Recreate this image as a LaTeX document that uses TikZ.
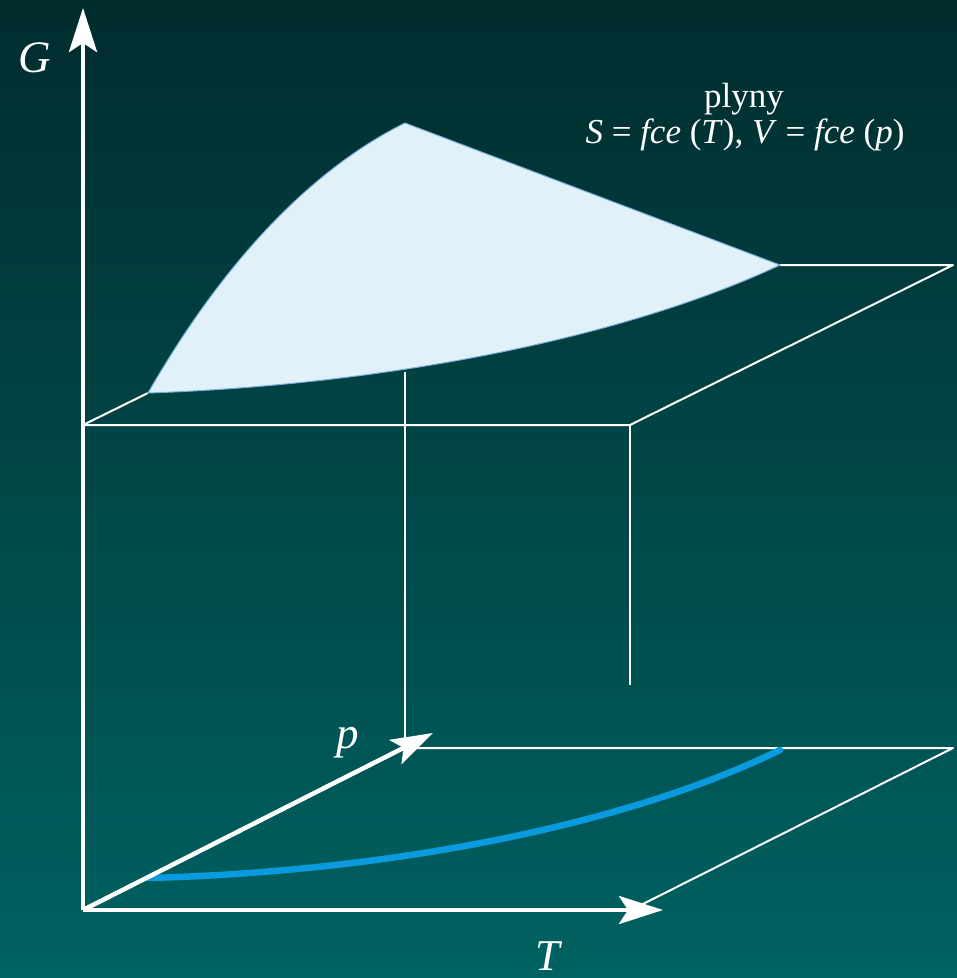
\documentclass[tikz,border=0pt]{standalone}
\usepackage{fontspec}
\setmainfont{Liberation Serif}
\usetikzlibrary{arrows.meta}
\definecolor{bgtop}{RGB}{1,44,46}
\definecolor{bgbot}{RGB}{0,98,98}
\definecolor{surf}{RGB}{225,241,249}
\definecolor{surfedge}{RGB}{122,174,216}
\definecolor{curveblue}{RGB}{10,154,222}
\begin{document}
\begin{tikzpicture}[x=1pt,y=-1pt,
  axis/.style={white, line width=4.5pt, -{Stealth[length=44pt,width=28pt,inset=9pt]}},
  paxis/.style={white, line width=4.5pt, -{Stealth[length=42pt,width=27pt,inset=9pt]}},
  frame/.style={white, line width=2pt, line join=round},
  lbl/.style={text=white, inner sep=0pt, anchor=base}]
\useasboundingbox (0,0) rectangle (957,978);
\shade[top color=bgtop, bottom color=bgbot] (0,0) rectangle (957,978);

% coordinates
\coordinate (O) at (83,910);
\coordinate (Gtip) at (83,8);
\coordinate (Ttip) at (663,910);
\coordinate (ptip) at (433,733);
\coordinate (P1) at (405,748);
\coordinate (P2) at (953,748);
\coordinate (P3) at (631,910);
\coordinate (U0) at (83,425);
\coordinate (U1) at (630,425);
\coordinate (U2) at (953,265);
\coordinate (U3) at (780,265);
\coordinate (U1b) at (630,685);
\coordinate (A) at (148,393);
\coordinate (B) at (405,123);
\coordinate (C) at (780,265);
\coordinate (D) at (405,372);
\coordinate (A2) at (148,878);
\coordinate (C2) at (780,750);

% upper frame
\draw[frame] (A) -- (U0) -- (U1) -- (U2) -- (U3);
\draw[frame] (U1) -- (U1b);
% bottom frame
\draw[frame] (P1) -- (P2) -- (P3);

% surface
\filldraw[fill=surf, draw=surfedge, line width=1pt]
  (A) .. controls (230,250) and (320,165) .. (B) -- (C)
  .. controls (620,340) and (380,385) .. (A) -- cycle;

% vertical drop
\draw[frame] (D) -- (P1);

% blue curve
\draw[curveblue, line width=6.5pt, line cap=round]
  (A2) .. controls (380,872) and (620,828) .. (C2);

% axes
\draw[axis] (O) -- (Gtip);
\draw[axis] (O) -- (Ttip);
\draw[paxis] (O) -- (ptip);

% labels
\node[lbl, font=\fontsize{45}{54}\selectfont\itshape] (Glab) at (35,72) {G};
\node[lbl, font=\fontsize{45}{54}\selectfont\itshape] (plab) at (348,748) {p};
\node[lbl, font=\fontsize{44}{52}\selectfont\itshape] (Tlab) at (548,970) {T};
\node[lbl, font=\fontsize{35}{40}\selectfont] (plyny) at (744,107) {plyny};
\node[lbl, font=\fontsize{35}{40}\selectfont] (func) at (745,143)
  {\textit{S} = \textit{fce} (\textit{T}), \textit{V} = \textit{fce} (\textit{p})};
\end{tikzpicture}
\end{document}
